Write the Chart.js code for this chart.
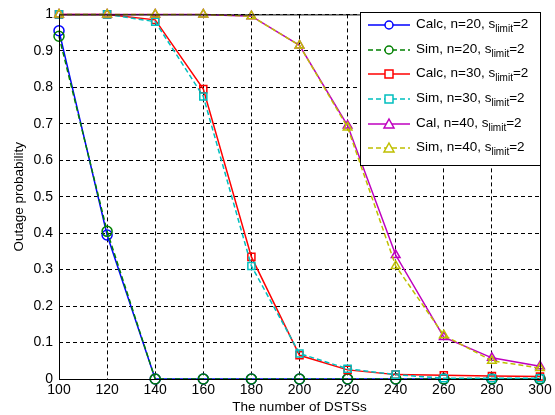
<!DOCTYPE html>
<html>
<head>
<meta charset="utf-8">
<script src="https://cdn.jsdelivr.net/npm/chart.js@4"></script>
<style>
  body { margin: 0; background: #fff; }
  canvas { display: block; }
</style>
</head>
<body>
<canvas id="outageChart" width="555" height="415"></canvas>
<script>
// Number of DSTSs
const dstsCounts = [100, 120, 140, 160, 180, 200, 220, 240, 260, 280, 300];

// Outage probability per curve
const calcN20 = [0.955, 0.395, 0, 0, 0, 0, 0, 0, 0, 0, 0];
const simN20  = [0.94, 0.405, 0, 0, 0, 0, 0, 0, 0, 0, 0];
const calcN30 = [1, 1, 0.985, 0.795, 0.335, 0.065, 0.025, 0.012, 0.01, 0.008, 0.007];
const simN30  = [1, 1, 0.98, 0.775, 0.31, 0.07, 0.028, 0.012, 0.002, 0.002, 0.002];
const calN40  = [1, 1, 1, 1, 0.995, 0.915, 0.695, 0.34, 0.115, 0.058, 0.035];
const simN40  = [1, 1, 1, 1, 0.995, 0.915, 0.69, 0.31, 0.12, 0.05, 0.03];

const xTicks = [100, 120, 140, 160, 180, 200, 220, 240, 260, 280, 300];
const yTicks = [0, 0.1, 0.2, 0.3, 0.4, 0.5, 0.6, 0.7, 0.8, 0.9, 1];

const fontFamily = "'Liberation Sans', Arial, sans-serif";

function toPoints(values) {
    return dstsCounts.map((x, i) => ({ x: x, y: values[i] }));
}

function series(label, values, color, marker, dashed, order) {
    return {
        label: label,
        data: toPoints(values),
        order: order,
        borderColor: color,
        backgroundColor: "rgba(0,0,0,0)",
        borderWidth: 1.5,
        borderDash: dashed ? [5, 3] : [],
        pointStyle: marker,
        pointRadius: 5,
        pointBorderColor: color,
        pointBackgroundColor: "rgba(0,0,0,0)",
        pointBorderWidth: 1.5,
        tension: 0,
        clip: false
    };
}

// later curves sit on top, like in the original figure
const datasets = [
    series("Calc, n=20, ", calcN20, "#0000ff", "circle", false, 5),
    series("Sim, n=20, ", simN20, "#008000", "circle", true, 4),
    series("Calc, n=30, ", calcN30, "#ff0000", "rect", false, 3),
    series("Sim, n=30, ", simN30, "#00bfbf", "rect", true, 2),
    series("Cal, n=40, ", calN40, "#bf00bf", "triangle", false, 1),
    series("Sim, n=40, ", simN40, "#bfbf00", "triangle", true, 0)
];

// frame around the plot area plus a MATLAB-like legend with subscripts
const frameAndLegend = {
    id: "frameAndLegend",
    afterDraw(chart) {
        const ctx = chart.ctx;
        const a = chart.chartArea;
        ctx.save();
        ctx.strokeStyle = "#000";
        ctx.lineWidth = 1;
        ctx.setLineDash([]);
        ctx.strokeRect(a.left + 0.5, a.top + 0.5, a.right - a.left, a.bottom - a.top);

        // legend box
        const bx = 360, by = 12, bw = a.right - 360, bh = 153;
        ctx.fillStyle = "#fff";
        ctx.fillRect(bx, by, bw, bh);
        ctx.strokeRect(bx + 0.5, by + 0.5, bw, bh);

        const rowY = [25, 50, 74, 99, 124, 148];
        chart.data.datasets.forEach((ds, i) => {
            const y = rowY[i];
            ctx.strokeStyle = ds.borderColor;
            ctx.lineWidth = 1.5;
            ctx.setLineDash(ds.borderDash);
            ctx.beginPath();
            ctx.moveTo(368, y);
            ctx.lineTo(410, y);
            ctx.stroke();
            ctx.setLineDash([]);
            ctx.beginPath();
            const cx = 389;
            if (ds.pointStyle === "circle") {
                ctx.arc(cx, y, 4, 0, Math.PI * 2);
            } else if (ds.pointStyle === "rect") {
                ctx.rect(cx - 4, y - 4, 8, 8);
            } else {
                ctx.moveTo(cx, y - 5);
                ctx.lineTo(cx + 5, y + 4);
                ctx.lineTo(cx - 5, y + 4);
                ctx.closePath();
            }
            ctx.fillStyle = "#fff";
            ctx.fill();
            ctx.stroke();

            ctx.fillStyle = "#000";
            ctx.textBaseline = "middle";
            ctx.textAlign = "left";
            ctx.font = "13.5px " + fontFamily;
            let tx = 416;
            ctx.fillText(ds.label + "s", tx, y - 1);
            tx += ctx.measureText(ds.label + "s").width;
            ctx.font = "10px " + fontFamily;
            ctx.fillText("limit", tx, y + 4);
            tx += ctx.measureText("limit").width;
            ctx.font = "13.5px " + fontFamily;
            ctx.fillText("=2", tx, y - 1);
        });
        ctx.restore();
    }
};

const ctx = document.getElementById("outageChart").getContext("2d");
new Chart(ctx, {
    type: "line",
    data: { datasets: datasets },
    plugins: [frameAndLegend],
    options: {
        responsive: false,
        animation: false,
        layout: { padding: { top: 12, right: 15, left: 0, bottom: 0 } },
        plugins: {
            legend: { display: false },
            tooltip: { enabled: false }
        },
        scales: {
            x: {
                type: "linear",
                min: 100,
                max: 300,
                afterBuildTicks: (scale) => { scale.ticks = xTicks.map(v => ({ value: v })); },
                afterFit: (scale) => { scale.height = 36; },
                grid: { color: "#000", lineWidth: 1, drawTicks: false, borderDash: [4, 3] },
                border: { display: false, dash: [4, 3] },
                ticks: {
                    color: "#000",
                    padding: 3,
                    maxRotation: 0,
                    font: { family: fontFamily, size: 14 }
                },
                title: {
                    display: true,
                    text: "The number of DSTSs",
                    color: "#000",
                    padding: { top: 0, bottom: 0 },
                    font: { family: fontFamily, size: 13.5 }
                }
            },
            y: {
                min: 0,
                max: 1,
                afterBuildTicks: (scale) => { scale.ticks = yTicks.map(v => ({ value: v })); },
                afterFit: (scale) => { scale.width = 59; },
                grid: { color: "#000", lineWidth: 1, drawTicks: false, borderDash: [4, 3] },
                border: { display: false, dash: [4, 3] },
                ticks: {
                    color: "#000",
                    padding: 6,
                    font: { family: fontFamily, size: 14 },
                    callback: (v) => String(Math.round(v * 10) / 10)
                },
                title: {
                    display: true,
                    text: "Outage probability",
                    color: "#000",
                    padding: { top: 11, bottom: 0 },
                    font: { family: fontFamily, size: 13.5 }
                }
            }
        }
    }
});
</script>
</body>
</html>
